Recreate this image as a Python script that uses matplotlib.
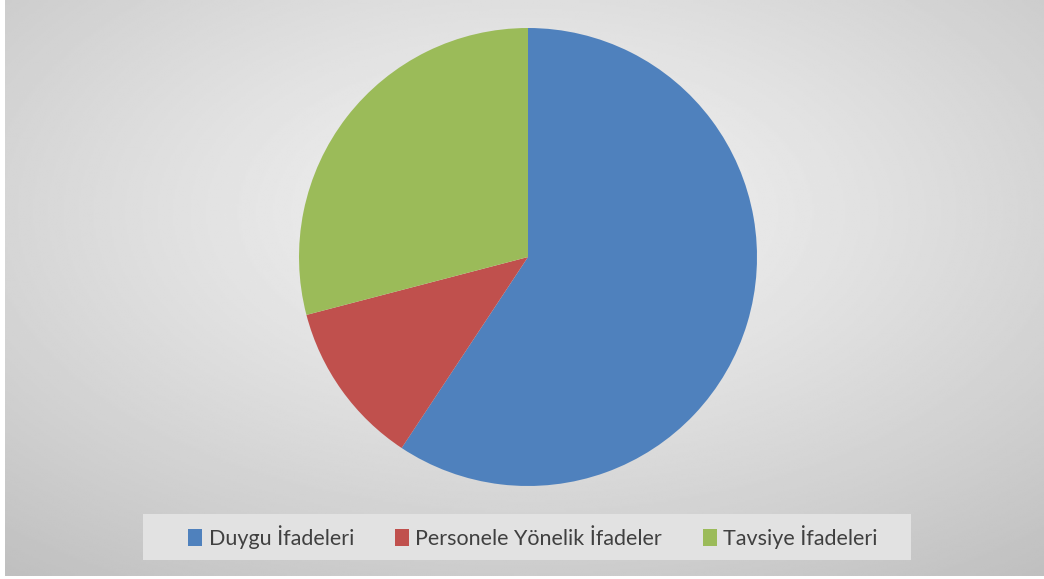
import numpy as np
import matplotlib
matplotlib.use("Agg")
import matplotlib.pyplot as plt
from matplotlib.patches import Patch, Rectangle

labels = ["Duygu İfadeleri", "Personele Yönelik İfadeler", "Tavsiye İfadeleri"]
values = [51, 10, 25]
colors = ["#4F81BD", "#C0504D", "#9BBB59"]

W, H = 1044, 579
fig = plt.figure(figsize=(W / 100, H / 100), dpi=100)
fig.patch.set_facecolor("white")

# radial grey background
bg = fig.add_axes([5 / W, 3 / H, 1 - 5 / W, 1 - 3 / H])
yy, xx = np.mgrid[0:300, 0:540]
cx, cy = 270, 110
r = np.sqrt(((xx - cx) / 540) ** 2 + ((yy - cy) / 300) ** 2)
r = r / r.max()
grad = 0.95 - 0.20 * r ** 1.2
bg.imshow(grad, cmap="gray", vmin=0, vmax=1, aspect="auto", interpolation="bilinear")
bg.axis("off")

# pie
cxp, cyp, rad = 528, 257, 229
ax = fig.add_axes([(cxp - rad) / W, 1 - (cyp + rad) / H, 2 * rad / W, 2 * rad / H])
ax.pie(values, colors=colors, startangle=90, counterclock=False, radius=1,
       wedgeprops=dict(linewidth=0))
ax.set_xlim(-1, 1)
ax.set_ylim(-1, 1)
ax.axis("off")

# legend box
fig.patches.append(Rectangle((143 / W, 1 - 560 / H), (911 - 143) / W, 46 / H,
                             transform=fig.transFigure, facecolor="#e2e2e2",
                             edgecolor="none", zorder=2))

handles = [Patch(facecolor=c, edgecolor="none") for c in colors]
leg = fig.legend(handles, labels, loc="center", ncol=3,
                 bbox_to_anchor=(533 / W, 1 - 537 / H),
                 prop={"family": "Lato", "size": 15.5},
                 frameon=False,
                 handlelength=0.65, handleheight=0.8, handletextpad=0.3,
                 columnspacing=1.9, borderpad=0.55, borderaxespad=0)
leg.set_zorder(3)
for t in leg.get_texts():
    t.set_color("#404040")

fig.savefig("out.png", dpi=100)
